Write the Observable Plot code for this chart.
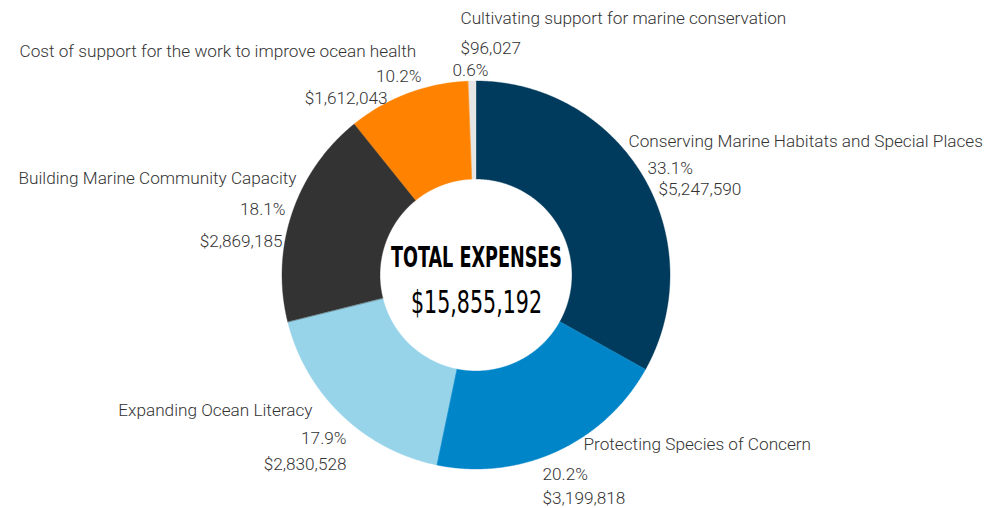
<!DOCTYPE html>
<html><head><meta charset="utf-8">
<script src="https://cdn.jsdelivr.net/npm/d3@7"></script>
<script src="https://cdn.jsdelivr.net/npm/@observablehq/plot@0.6"></script>
<style>body{margin:0;background:#fff}#chart{width:986px;height:508px}</style>
</head><body><div id="chart"></div>
<script>
// ---- data ----
const categories = [
  "Conserving Marine Habitats and Special Places",
  "Protecting Species of Concern",
  "Expanding Ocean Literacy",
  "Building Marine Community Capacity",
  "Cost of support for the work to improve ocean health",
  "Cultivating support for marine conservation"
];
const amounts = [5247590, 3199818, 2830528, 2869185, 1612043, 96027];
const percentLabels = ["33.1%", "20.2%", "17.9%", "18.1%", "10.2%", "0.6%"];
const amountLabels = ["$5,247,590", "$3,199,818", "$2,830,528", "$2,869,185", "$1,612,043", "$96,027"];
const totalTitle = "TOTAL EXPENSES";
const totalValue = "$15,855,192";

// ---- styles / layout ----
const colors = ["#003a5c", "#0085c8", "#97d4ea", "#333333", "#ff8300", "#e6e6e6"];
const W = 986, H = 508, CX = 476, CY = 275, R_OUT = 194, R_IN = 96;
// label layout per category: [name, percent, amount] -> [x, y, anchor]
const labelLayout = [
  [[628, 141, "start"], [647, 168, "start"], [658, 189, "start"]],
  [[583, 444, "start"], [542, 474, "start"], [542, 498, "start"]],
  [[312, 410, "end"], [346, 438, "end"], [346, 464, "end"]],
  [[296, 178, "end"], [285, 209, "end"], [282, 241, "end"]],
  [[19, 51, "start"], [421, 76, "end"], [387, 98, "end"]],
  [[460, 18, "start"], [452, 70, "start"], [460, 48, "start"]]
];

const arcs = d3.pie().sort(null).value(d => d)(amounts);
const rows = [];
arcs.forEach((p, i) => {
  const n = Math.max(2, Math.ceil((p.endAngle - p.startAngle) / 0.005));
  for (let k = 0; k <= n; k++) {
    const a = p.startAngle + (p.endAngle - p.startAngle) * k / n;
    rows.push({
      cat: categories[i],
      x1: CX + R_IN * Math.sin(a), y1: CY - R_IN * Math.cos(a),
      x2: CX + R_OUT * Math.sin(a), y2: CY - R_OUT * Math.cos(a)
    });
  }
});

const labels = [];
categories.forEach((c, i) => {
  const texts = [c, percentLabels[i], amountLabels[i]];
  texts.forEach((t, j) => {
    const [x, y, anchor] = labelLayout[i][j];
    labels.push({text: t, x, y, anchor});
  });
});

const textStyle = {fontFamily: "Roboto, sans-serif", fontWeight: 300, fontSize: 17.2, fill: "#333333"};

const chart = Plot.plot({
  width: W, height: H, margin: 0,
  x: {domain: [0, W], range: [0, W], axis: null},
  y: {domain: [0, H], range: [0, H], axis: null},
  color: {domain: categories, range: colors},
  style: {background: "#fff", overflow: "visible"},
  marks: [
    Plot.area(rows, {x1: "x1", y1: "y1", x2: "x2", y2: "y2", fill: "cat", z: "cat", stroke: "cat", strokeWidth: 0.4}),
    Plot.text(labels.filter(d => d.anchor === "start"), {x: "x", y: "y", text: "text", textAnchor: "start", ...textStyle}),
    Plot.text(labels.filter(d => d.anchor === "end"), {x: "x", y: "y", text: "text", textAnchor: "end", ...textStyle}),
    Plot.text([totalTitle], {x: () => CX, y: () => 258, text: d => d, textAnchor: "middle",
      fontFamily: "'DejaVu Sans Condensed', sans-serif", fontWeight: "bold", fontSize: 28, fill: "#000"}),
    Plot.text([totalValue], {x: () => CX, y: () => 302, text: d => d, textAnchor: "middle",
      fontFamily: "'DejaVu Sans Condensed', sans-serif", fontWeight: "normal", fontSize: 32, fill: "#000"})
  ]
});
document.getElementById("chart").appendChild(chart);
d3.select(chart).selectAll("text").each(function() {
  const t = this.textContent;
  if (t === totalTitle) d3.select(this).attr("textLength", 171).attr("lengthAdjust", "spacingAndGlyphs");
  if (t === totalValue) d3.select(this).attr("textLength", 131).attr("lengthAdjust", "spacingAndGlyphs");
});
</script></body></html>
